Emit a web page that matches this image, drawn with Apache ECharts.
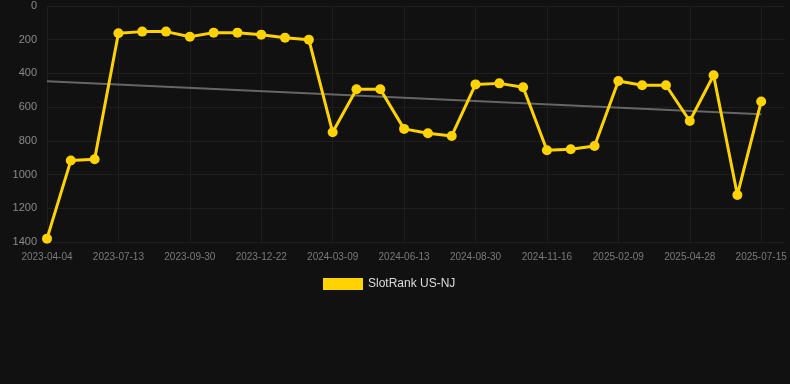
<!DOCTYPE html>
<html>
<head>
<meta charset="utf-8">
<script src="https://cdn.jsdelivr.net/npm/echarts@6/dist/echarts.min.js"></script>
<style>
html,body{margin:0;padding:0;background:#111111;}
#chart{width:790px;height:384px;}
</style>
</head>
<body>
<div id="chart"></div>
<script>
var categories = [
  '2023-04-04','2023-05-07','2023-06-09','2023-07-13','2023-08-08','2023-09-04',
  '2023-09-30','2023-10-28','2023-11-24','2023-12-22','2024-01-16','2024-02-12',
  '2024-03-09','2024-04-12','2024-05-13','2024-06-13','2024-07-09','2024-08-04',
  '2024-08-30','2024-09-25','2024-10-21','2024-11-16','2024-12-15','2025-01-12',
  '2025-02-09','2025-03-07','2025-04-02','2025-04-28','2025-05-24','2025-06-19',
  '2025-07-15','2025-08-10'
];
var rankValues = [
  1380, 917, 909, 162, 152, 152, 182, 158, 158, 170, 188, 200,
  749, 494, 494, 729, 755, 771, 465, 459, 482, 856, 850, 830,
  445, 470, 470, 682, 411, 1121, 567, null
];
var trendStart = 447;
var trendEnd = 642;
var yTicks = { min: 0, max: 1400, interval: 200 };
var seriesName = 'SlotRank US-NJ';

var trendData = categories.map(function (c, i) {
  if (i === 0) return trendStart;
  if (i === 30) return trendEnd;
  return null;
});

var chart = echarts.init(document.getElementById('chart'));
chart.setOption({
  backgroundColor: '#111111',
  animation: false,
  grid: { left: 47, right: 5, top: 6, bottom: 142 },
  legend: {
    data: [{ name: seriesName, icon: 'rect' }],
    top: 273,
    left: 318,
    itemWidth: 40,
    itemHeight: 12,
    itemGap: 6,
    textStyle: { color: '#dddddd', fontSize: 12, fontFamily: 'Liberation Sans, Arial, sans-serif' }
  },
  xAxis: {
    type: 'category',
    data: categories,
    boundaryGap: false,
    axisLine: { show: false },
    axisTick: { show: false },
    axisLabel: {
      interval: 2,
      color: '#7a7a7a',
      fontSize: 10,
      margin: 10,
      fontFamily: 'Liberation Sans, Arial, sans-serif'
    },
    splitLine: { show: true, interval: 2, lineStyle: { color: '#1e1e1e', width: 1 } }
  },
  yAxis: {
    type: 'value',
    inverse: true,
    min: yTicks.min,
    max: yTicks.max,
    interval: yTicks.interval,
    axisLine: { show: false },
    axisTick: { show: false },
    axisLabel: {
      color: '#8a8a8a',
      fontSize: 11,
      margin: 10,
      formatter: function (v) { return String(v); },
      fontFamily: 'Liberation Sans, Arial, sans-serif'
    },
    splitLine: { lineStyle: { color: '#1e1e1e', width: 1 } }
  },
  series: [
    {
      name: 'trend',
      type: 'line',
      data: trendData,
      connectNulls: true,
      symbol: 'none',
      silent: true,
      lineStyle: { color: '#666666', width: 2 },
      z: 1
    },
    {
      name: seriesName,
      type: 'line',
      data: rankValues,
      symbol: 'circle',
      symbolSize: 10,
      itemStyle: { color: '#FFD200' },
      lineStyle: { color: '#FFD200', width: 3 },
      z: 2
    }
  ]
});
</script>
</body>
</html>
